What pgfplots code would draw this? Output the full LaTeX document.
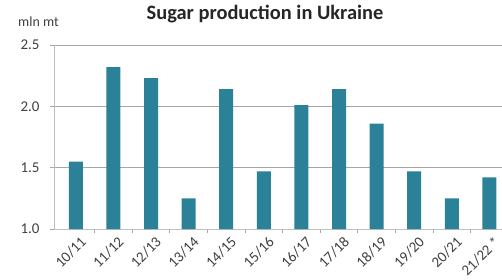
\documentclass[border=0pt]{standalone}
\usepackage{pgfplots}
\pgfplotsset{compat=1.18}
\usepackage{fontspec}
\setmainfont{Carlito}
\definecolor{barc}{HTML}{2B8197}
\definecolor{gridc}{HTML}{A6A6A6}
\definecolor{axc}{HTML}{BFBFBF}
\definecolor{txt}{HTML}{404040}
\begin{document}
\begin{tikzpicture}[x=1bp,y=1bp]
\useasboundingbox (0,0) rectangle (502,279);
\begin{axis}[
  at={(54bp,50bp)}, anchor=south west,
  scale only axis, width=448.6bp, height=184bp,
  xmin=-0.58, xmax=11.35, ymin=1, ymax=2.5,
  axis lines*=left,
  axis line style={axc, line width=0.8bp},
  ytick={1,1.5,2,2.5},
  yticklabel style={/pgf/number format/fixed, /pgf/number format/fixed zerofill, /pgf/number format/precision=1, xshift=-7bp},
  /pgf/number format/assume math mode=true,
  ymajorgrids, grid style={gridc, line width=0.9bp},
  tick align=outside, major tick length=4bp,
  tick style={gridc, line width=0.8bp},
  xtick={0.5,1.5,...,10.5}, xticklabels={},
  extra x ticks={0,1,2,3,4,5,6,7,8,9,10,11},
  extra x tick labels={10/11,11/12,12/13,13/14,14/15,15/16,16/17,17/18,18/19,19/20,20/21,21/22 *},
  extra x tick style={major tick length=0pt, grid=none,
     xticklabel style={rotate=45, anchor=east, inner sep=1bp, xshift=-1bp, yshift=-13bp}},
  every tick label/.append style={font=\fontsize{15}{15}\selectfont, text=txt},
  clip=true,
]
\addplot[ybar, bar width=14bp, fill=barc, draw=none] coordinates {
(0,1.55) (1,2.32) (2,2.23) (3,1.25) (4,2.14) (5,1.47) (6,2.01) (7,2.14) (8,1.86) (9,1.47) (10,1.25) (11,1.42)
};
\end{axis}
\node[font=\bfseries\fontsize{20.5}{20.5}\selectfont, text=black!85] at (265,265) {Sugar production in Ukraine};
\node[font=\fontsize{14}{14}\selectfont, text=txt] at (38.5,257) {mln mt};
\end{tikzpicture}
\end{document}
